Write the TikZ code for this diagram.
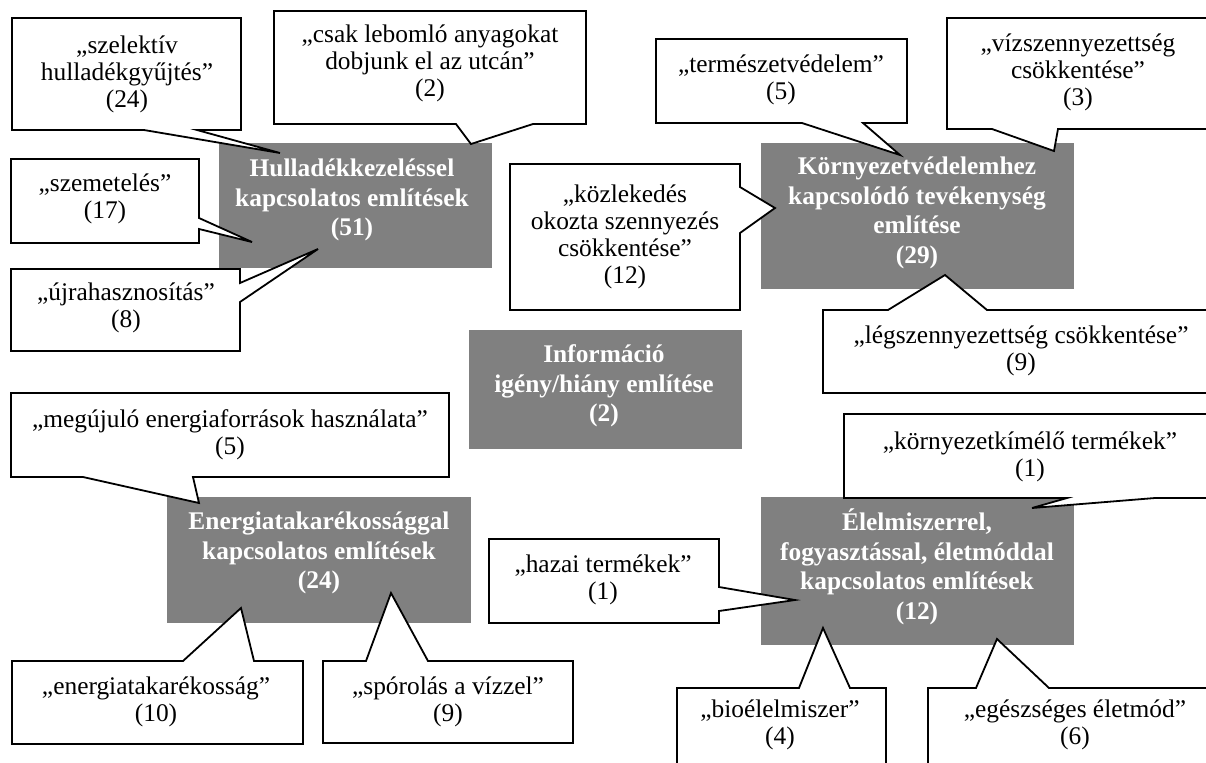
\documentclass[tikz,border=0pt]{standalone}
\usepackage{fontspec}
\setmainfont{Liberation Serif}
\definecolor{boxgray}{RGB}{128,128,128}
\tikzset{
  topicbox/.style={fill=boxgray, draw=none},
  topic/.style={text=white, font=\bfseries\fontsize{12.7}{14.75}\selectfont, align=center, inner sep=0pt},
  bubble/.style={draw=black, fill=white, line width=0.9pt, line join=miter},
  quote/.style={font=\fontsize{12.7}{13.5}\selectfont, align=center, inner sep=0pt}
}
\begin{document}
\begin{tikzpicture}[x=0.5pt, y=-0.5pt]
\useasboundingbox (0,0) rectangle (1206,762);
\clip (0,0) rectangle (1206,762);

% grey topic boxes
\path[topicbox] (219,143) rectangle (492,268);
\node[topic] (hull) at (352,200) {Hulladékkezeléssel\\kapcsolatos említések\\(51)};
\path[topicbox] (761,143) rectangle (1074,289);
\node[topic] (korny) at (917,213) {Környezetvédelemhez\\kapcsolódó tevékenység\\említése\\(29)};
\path[topicbox] (469,330) rectangle (742,449);
\node[topic] (info) at (604,386) {Információ\\igény/hiány említése\\(2)};
\path[topicbox] (167,497) rectangle (471,623);
\node[topic] (energ) at (319,553) {Energiatakarékossággal\\kapcsolatos említések\\(24)};
\path[topicbox] (761,497) rectangle (1074,645);
\node[topic] (elel) at (917,567) {Élelmiszerrel,\\fogyasztással, életmóddal\\kapcsolatos említések\\(12)};

% speech bubbles: waste
\path[bubble] (12,18) -- (241,18) -- (241,130) -- (197,130) -- (280,153) -- (144,130) -- (12,130) -- cycle;
\node[quote] (szel) at (127,74) {„szelektív\\hulladékgyűjtés”\\(24)};
\path[bubble] (274,11) -- (586,11) -- (586,124) -- (533,124) -- (471,144) -- (456,124) -- (274,124) -- cycle;
\node[quote] (lebom) at (430,63) {„csak lebomló anyagokat\\dobjunk el az utcán”\\(2)};
\path[bubble] (11,159) -- (199,159) -- (199,218) -- (252,242) -- (199,229) -- (199,243) -- (11,243) -- cycle;
\node[quote] (szem) at (105,199) {„szemetelés”\\(17)};
\path[bubble] (11,269) -- (240,269) -- (240,283) -- (318,249) -- (240,302) -- (240,351) -- (11,351) -- cycle;
\node[quote] (ujra) at (126,308) {„újrahasznosítás”\\(8)};

% speech bubbles: environment protection
\path[bubble] (656,39) -- (907,39) -- (907,123) -- (863,123) -- (900,155) -- (802,123) -- (656,123) -- cycle;
\node[quote] (term) at (781,80) {„természetvédelem”\\(5)};
\path[bubble] (947,18) -- (1215,18) -- (1215,129) -- (1058,129) -- (1054,151) -- (992,129) -- (947,129) -- cycle;
\node[quote] (viz) at (1078,72) {„vízszennyezettség\\csökkentése”\\(3)};
\path[bubble] (510,164) -- (740,164) -- (740,187) -- (775,208) -- (740,233) -- (740,310) -- (510,310) -- cycle;
\node[quote] (kozl) at (625,237) {„közlekedés\\okozta szennyezés\\csökkentése”\\(12)};
\path[bubble] (823,310) -- (888,310) -- (945,275) -- (987,310) -- (1215,310) -- (1215,393) -- (823,393) -- cycle;
\node[quote] (leg) at (1021,351) {„légszennyezettség csökkentése”\\(9)};

% speech bubbles: energy
\path[bubble] (11,393) -- (449,393) -- (449,477) -- (193,477) -- (199,503) -- (83,477) -- (11,477) -- cycle;
\node[quote] (megu) at (230,435) {„megújuló energiaforrások használata”\\(5)};
\path[bubble] (12,661) -- (183,661) -- (241,608) -- (254,661) -- (303,661) -- (303,744) -- (12,744) -- cycle;
\node[quote] (entak) at (156,702) {„energiatakarékosság”\\(10)};
\path[bubble] (323,661) -- (366,661) -- (391,593) -- (428,661) -- (573,661) -- (573,743) -- (323,743) -- cycle;
\node[quote] (spor) at (448,702) {„spórolás a vízzel”\\(9)};

% speech bubbles: food and lifestyle
\path[bubble] (489,539) -- (719,539) -- (719,587) -- (795,600) -- (719,611) -- (719,623) -- (489,623) -- cycle;
\node[quote] (hazai) at (603,580) {„hazai termékek”\\(1)};
\path[bubble] (844,414) -- (1215,414) -- (1215,498) -- (1155,498) -- (1032,508) -- (1067,498) -- (844,498) -- cycle;
\node[quote] (kimel) at (1030,457) {„környezetkímélő termékek”\\(1)};
\path[bubble] (677,688) -- (799,688) -- (823,628) -- (850,688) -- (886,688) -- (886,775) -- (677,775) -- cycle;
\node[quote] (bio) at (780,725) {„bioélelmiszer”\\(4)};
\path[bubble] (928,688) -- (976,688) -- (997,639) -- (1049,688) -- (1215,688) -- (1215,775) -- (928,775) -- cycle;
\node[quote] (eges) at (1075,725) {„egészséges életmód”\\(6)};
\end{tikzpicture}
\end{document}
